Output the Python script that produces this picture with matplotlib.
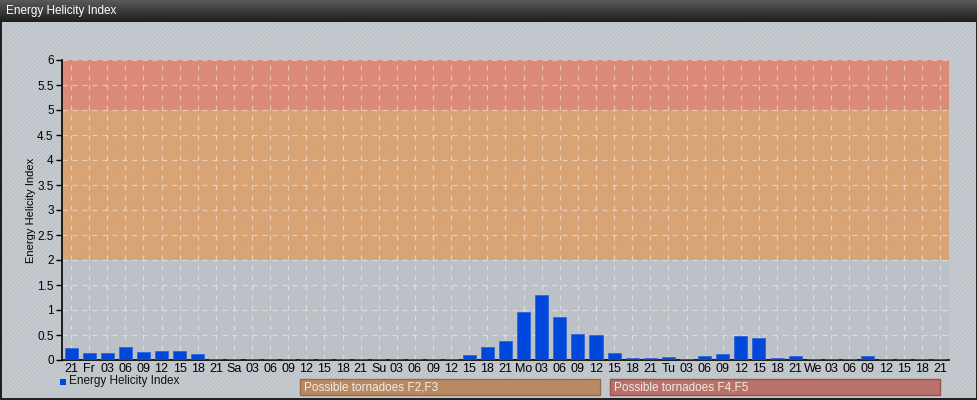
import numpy as np
import matplotlib
matplotlib.use("Agg")
import matplotlib.pyplot as plt
from matplotlib.patches import Rectangle

plt.rcParams["font.family"] = ["Liberation Sans", "DejaVu Sans"]
plt.rcParams["hatch.linewidth"] = 0.6

# data
labels = ["21", "Fr", "03", "06", "09", "12", "15", "18",
          "21", "Sa", "03", "06", "09", "12", "15", "18",
          "21", "Su", "03", "06", "09", "12", "15", "18",
          "21", "Mo", "03", "06", "09", "12", "15", "18",
          "21", "Tu", "03", "06", "09", "12", "15", "18",
          "21", "We", "03", "06", "09", "12", "15", "18", "21"]
ehi = [0.25, 0.15, 0.14, 0.27, 0.17, 0.18, 0.18, 0.12,
       0.02, 0.02, 0.02, 0.03, 0.02, 0.02, 0.03, 0.02,
       0.02, 0.02, 0.02, 0.02, 0.02, 0.02, 0.10, 0.27,
       0.38, 0.97, 1.31, 0.86, 0.52, 0.50, 0.15, 0.04,
       0.05, 0.07, 0.03, 0.08, 0.13, 0.49, 0.45, 0.05,
       0.09, 0.02, 0.02, 0.02, 0.09, 0.02, 0.02, 0.02, 0.02]
bands = [(2, 5, "#dba06c", "Possible tornadoes F2,F3", "#b98a62", "#9a6a44"),
         (5, 6, "#de846e", "Possible tornadoes F4,F5", "#b8726a", "#9a5048")]
yticks = [0, 0.5, 1, 1.5, 2, 2.5, 3, 3.5, 4, 4.5, 5, 5.5, 6]

W, H = 978, 400
fig = plt.figure(figsize=(W / 100, H / 100), dpi=100)
fig.patch.set_facecolor("#c6cbd0")

# hatched background
bg = fig.add_axes([0, 0, 1, 1])
bg.set_xlim(0, W)
bg.set_ylim(H, 0)
bg.axis("off")
bg.add_patch(Rectangle((0, 0), W, H, facecolor="#c6cbd0", edgecolor="#b8bec4",
                       hatch="////////", linewidth=0))

# title bar
grad = np.linspace(0, 1, 50).reshape(-1, 1)
tb = fig.add_axes([0, 1 - 22 / H, 1, 22 / H])
tb.imshow(grad, aspect="auto", cmap=matplotlib.colors.LinearSegmentedColormap.from_list(
    "tb", ["#5a5a5a", "#1e1e1e"]), extent=[0, 1, 0, 1])
tb.axis("off")
tb.text(6 / W, 0.5, "Energy Helicity Index", color="white", fontsize=8.5,
        va="center", ha="left", transform=tb.transAxes)

ax = fig.add_axes([62 / W, 40 / H, 887 / W, 300 / H])
ax.set_facecolor("none")
x = np.arange(len(labels))
ax.set_xlim(-0.5, len(labels) - 0.5)
ax.set_ylim(0, 6)

ax.axhspan(0, 2, color="#b9bec4", alpha=0.6, zorder=0, linewidth=0)
for lo, hi, c, *_ in bands:
    ax.axhspan(lo, hi, color=c, alpha=0.9, zorder=0, linewidth=0)

ax.bar(x, ehi, width=0.72, color="#0047dc", edgecolor="#2a5fd8", linewidth=0.5, zorder=3)

ax.set_xticks(x)
ax.set_xticklabels(labels, fontsize=9)
ax.set_yticks(yticks)
ax.set_yticklabels([f"{v:g}" for v in yticks], fontsize=8.5)
ax.tick_params(axis="x", length=0, pad=2)
ax.tick_params(axis="y", length=4, width=1, pad=2)
ax.grid(True, color="white", alpha=0.45, linestyle=(0, (4, 4)), linewidth=0.9, zorder=1)
for s in ["top", "right"]:
    ax.spines[s].set_visible(False)
ax.spines["left"].set_linewidth(1.2)
ax.spines["bottom"].set_linewidth(1.2)
ax.set_ylabel("Energy Helicity Index", fontsize=8)
ax.yaxis.set_label_coords(-26 / 887, 0.5)

# legend row
bg.add_patch(Rectangle((60, 379), 6, 6, facecolor="#0047dc", edgecolor="none"))
bg.text(69, 381, "Energy Helicity Index", fontsize=8.5, va="center", ha="left", color="#111111")
boxes = [(300, 600), (610, 940)]
for (x0, x1), (lo, hi, c, txt, fc, ec) in zip(boxes, bands):
    bg.add_patch(Rectangle((x0, 379), x1 - x0, 16, facecolor=fc, edgecolor=ec, linewidth=1))
    bg.text(x0 + 4, 387.5, txt, fontsize=8.5, va="center", ha="left", color="#f4ece6")

bg.add_patch(Rectangle((0.5, 0.5), W - 1.5, H - 1.5, fill=False, edgecolor="black", linewidth=1.2))

fig.savefig("out.png", dpi=100, facecolor=fig.get_facecolor())
